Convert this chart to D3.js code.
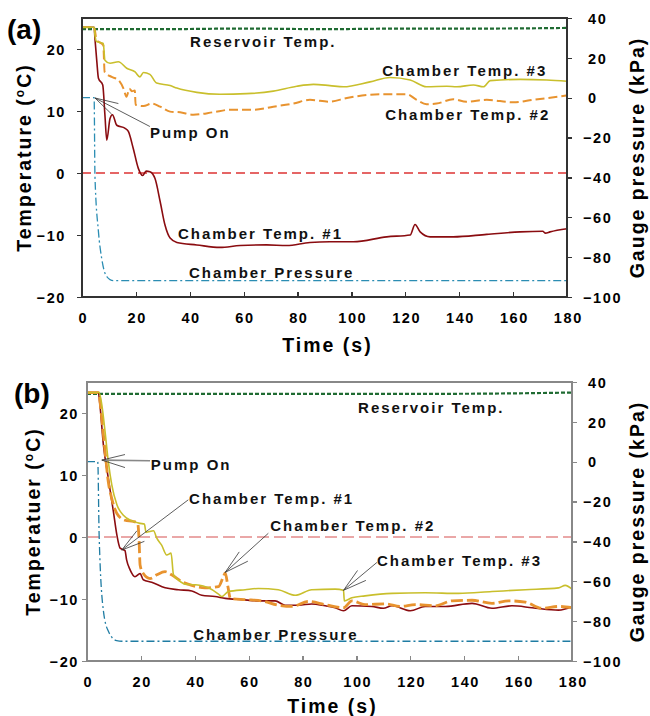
<!DOCTYPE html>
<html>
<head>
<meta charset="utf-8">
<script src="https://cdn.jsdelivr.net/npm/d3@7"></script>
<style>
  body { margin: 0; background: #fff; }
  svg { display: block; font-family: "Liberation Sans", Arial, sans-serif; font-weight: bold; }
</style>
</head>
<body>
<svg id="chart" width="650" height="716"></svg>
<script>
// values: time (s), temperature (°C), gauge pressure (kPa)
const timeTicks = [0, 20, 40, 60, 80, 100, 120, 140, 160, 180]
const tempTicks = [-20, -10, 0, 10, 20]
const pressTicks = [-100, -80, -60, -40, -20, 0, 20, 40]

// panel (a)
const aReservoir = [[0,23.2],[30,23.2],[60,23.3],[90,23.2],[120,23.3],[150,23.3],[180,23.4]]
const aChamber1 = [[0,23.5],[4.5,23.5],[4.8,21.7],[5.5,18],[6.1,15.3],[7.7,14.2],[8.5,9.4],[9.2,5.3],[10.4,8.8],[11.3,9.4],[12.9,7.7],[16,7.2],[17.2,6.7],[19,4.0],[20.9,0.75],[22.5,-0.4],[23.8,0.3],[25.2,0.2],[27.1,-0.9],[29,-4.6],[30.8,-8.4],[32.7,-10.5],[35.2,-11.2],[42.6,-11.6],[51.2,-12.0],[58.7,-11.7],[68.5,-11.6],[76,-11.7],[84.6,-11.2],[92,-11.1],[100.7,-11.1],[113.1,-10.3],[121.8,-10.0],[123.6,-8.3],[125.5,-9.5],[129.2,-10.3],[137.8,-10.3],[150.2,-9.9],[162.6,-9.5],[171,-9.4],[172,-9.7],[173.7,-9.5],[180,-9.0]]
const aChamber2 = [[0,23.5],[4.5,23.5],[5.4,21.5],[7.9,20.6],[8.4,16.3],[11,15.5],[13.5,15.0],[15.5,13.5],[16.5,12.3],[17.6,13.6],[18.5,13.2],[19.6,13.3],[19.9,11.0],[22.8,10.8],[25.9,11.2],[29,10.7],[32.7,9.9],[36.4,9.8],[41.3,9.4],[48.7,9.8],[54.9,10.2],[63.6,10.2],[71,10.7],[78.4,11.2],[84.6,11.8],[92,11.5],[98.3,12.1],[110.6,12.7],[120.5,12.7],[124.2,11.8],[127.9,11.1],[131.6,11.2],[137.8,11.9],[142.7,11.5],[150.2,11.8],[160.1,11.4],[167.5,11.8],[180,12.5]]
const aChamber3 = [[0,23.5],[4.5,23.5],[4.8,22.3],[5.4,21.2],[7.9,20.9],[8.5,18.2],[10.4,17.7],[13.5,17.95],[16.6,16.9],[19.7,16.3],[21.5,15.5],[22.8,16.2],[25.2,15.9],[27.7,14.5],[32.7,14.1],[35.2,13.7],[42.6,13.0],[51.2,12.7],[61.1,12.8],[71,13.2],[79.7,14.0],[85.9,14.3],[92,14.1],[97,13.9],[106.9,14.7],[114.3,15.4],[121.8,15.0],[127.9,13.9],[135.4,14.0],[139.1,13.9],[145.3,14.2],[149,13.9],[151.5,14.9],[162.6,15.1],[172.5,15.0],[180,14.8]]
const aPressure = [[0,0],[4.5,0],[4.8,-38.8],[6.1,-67.2],[7.3,-80.6],[9.2,-89.8],[11.6,-91.8],[60,-91.8],[120,-91.8],[180,-91.8]]

// panel (b)
const bReservoir = [[0,23.1],[45,23.1],[90,23.1],[135,23.1],[180,23.3]]
const bChamber1 = [[0,23.3],[4.2,23.3],[4.8,21.3],[6.1,14.8],[7.9,9.5],[9.8,4.1],[11.1,0.3],[12.3,-1.8],[14.1,-2.2],[14.7,-3.7],[16,-5.3],[17.8,-6.4],[19.7,-5.9],[20.9,-6.9],[24,-7.3],[29,-8.2],[33.9,-8.5],[38.9,-8.7],[42.6,-9.4],[47.5,-9.6],[51.3,-9.9],[57.5,-10.1],[63.6,-10.3],[69.8,-10.3],[73.5,-11.0],[78.5,-11.0],[83.4,-10.8],[88.4,-11.1],[92.1,-11.4],[95.2,-11.9],[98.3,-11.1],[105.7,-11.2],[110,-11.5],[113.2,-11.1],[120,-11.9],[125.5,-11.2],[133,-11.2],[142.9,-10.7],[150.3,-11.5],[157.7,-11.1],[165.2,-11.4],[175,-11.8],[180,-11.2]]
const bChamber2 = [[0,23.3],[4.2,23.3],[5.5,19.1],[6.7,13.8],[7.9,8.9],[9.2,6.2],[11.1,3.8],[14.1,2.7],[17.2,2.5],[18.8,2.2],[19.3,-0.2],[19.7,-4.5],[20.9,-5.9],[23.4,-6.7],[25.9,-6.1],[29,-5.6],[31.4,-6.1],[35.2,-7.2],[38.9,-7.8],[43.8,-8.2],[48.8,-8.0],[50.6,-6.4],[51.3,-5.8],[52.3,-8.0],[53.2,-9.9],[58.7,-10.1],[64.9,-10.3],[71,-11.0],[76,-11.2],[82.2,-10.4],[88.4,-10.9],[95.2,-11.4],[98.3,-10.3],[103.2,-10.9],[110.7,-10.8],[116.2,-11.2],[121.8,-10.9],[129.2,-11.1],[135.5,-10.3],[142.9,-10.2],[150.3,-10.7],[156.5,-10.3],[162.7,-10.5],[168.9,-11.5],[175,-11.2],[180,-11.4]]
const bChamber3 = [[0,23.3],[4.5,23.3],[5.5,21.3],[6.7,17.0],[7.9,12.2],[9.2,8.4],[11.1,5.2],[13.5,3.5],[16.6,2.6],[19.7,2.2],[21.3,2.1],[21.9,0.75],[24.7,1.0],[25.9,-0.2],[27.7,-1.3],[29.6,-2.9],[31.2,-2.6],[32.1,-6.1],[33.9,-6.9],[36.4,-7.6],[40.1,-7.7],[45.1,-8.2],[48.8,-9.2],[50,-9.6],[52.5,-8.8],[58.7,-8.5],[63.6,-8.3],[71,-8.5],[77.3,-9.4],[83.4,-8.5],[92.1,-8.4],[95.2,-8.6],[95.5,-10.3],[98.3,-9.8],[103.2,-9.5],[113.2,-9.1],[125.5,-9.0],[137.9,-9.1],[150.3,-8.8],[162.7,-8.5],[175,-8.2],[177.5,-7.8],[180,-8.4]]
const bPressure = [[0,0],[4.0,0],[4.5,-36.6],[6.1,-75],[7.9,-85],[11,-89.8],[13,-90.1],[90,-90.1],[180,-90.1]]

const svg = d3.select('#chart')
svg.append('rect').attr('width', 650).attr('height', 716).attr('fill', '#fff')

function drawPanel(p) {
  const x = d3.scaleLinear().domain([0, 180]).range([p.left, p.right])
  const yT = d3.scaleLinear().domain([-20, 25]).range([p.bottom, p.top])
  const yP = d3.scaleLinear().domain([-100, 40]).range([p.bottom, p.top])
  const g = svg.append('g')

  // zero line
  g.append('line')
    .attr('x1', x(0)).attr('x2', x(180))
    .attr('y1', yT(0)).attr('y2', yT(0))
    .attr('stroke', p.zeroColor).attr('stroke-width', p.zeroWidth)
    .attr('stroke-dasharray', p.zeroDash)

  const lineT = d3.line().x(d => x(d[0])).y(d => yT(d[1])).curve(d3.curveMonotoneX)
  const lineP = d3.line().x(d => x(d[0])).y(d => yP(d[1])).curve(d3.curveMonotoneX)

  const series = [
    {data: p.pressure, line: lineP, color: p.pressColor, width: 1.3, dash: '8,3,2,3'},
    {data: p.reservoir, line: lineT, color: '#1f6b32', width: 2.2, dash: '4,2'},
    {data: p.chamber1, line: lineT, color: '#8a0c10', width: 1.6, dash: null},
    {data: p.chamber2, line: lineT, color: '#e8932f', width: p.orangeWidth, dash: p.orangeDash},
    {data: p.chamber3, line: lineT, color: '#c9bf2c', width: 1.6, dash: null}
  ]
  g.selectAll('path.series')
    .data(series)
    .join('path')
      .attr('class', 'series')
      .attr('d', s => s.line(s.data))
      .attr('fill', 'none')
      .attr('stroke', s => s.color)
      .attr('stroke-width', s => s.width)
      .attr('stroke-dasharray', s => s.dash)

  // frame
  g.append('rect')
    .attr('x', p.left).attr('y', p.top)
    .attr('width', p.right - p.left).attr('height', p.bottom - p.top)
    .attr('fill', 'none').attr('stroke', p.axisColor).attr('stroke-width', 1.4)
    .attr('shape-rendering', 'crispEdges')

  const styleAxis = sel => {
    sel.select('.domain').remove()
    sel.selectAll('.tick line').attr('stroke', p.axisColor).attr('stroke-width', 1.2)
      .attr('shape-rendering', 'crispEdges')
    sel.selectAll('.tick text')
      .attr('fill', '#000').style('font-size', '14.5px').style('font-weight', 'bold')
      .style('font-family', '"Liberation Sans", Arial, sans-serif')
      .style('letter-spacing', '1.6px')
  }

  g.append('g')
    .attr('transform', 'translate(0,' + p.bottom + ')')
    .call(d3.axisBottom(x).tickValues(timeTicks).tickSizeInner(-5).tickSizeOuter(0).tickPadding(16))
    .call(styleAxis)
    .call(s => s.selectAll('.tick text').attr('dx', '0.8px'))

  g.append('g')
    .attr('transform', 'translate(' + p.left + ',0)')
    .call(d3.axisLeft(yT).tickValues(tempTicks).tickSizeInner(5).tickSizeOuter(0))
    .call(styleAxis)
    .call(s => s.selectAll('.tick text').attr('x', -p.leftLabel).attr('dy', '0.36em'))

  g.append('g')
    .attr('transform', 'translate(' + p.right + ',0)')
    .call(d3.axisRight(yP).tickValues(pressTicks).tickSizeInner(5).tickSizeOuter(0))
    .call(styleAxis)
    .call(s => s.selectAll('.tick text')
      .attr('x', d => d < 0 ? p.rightNeg : p.rightPos).attr('dy', '0.36em'))

  // axis titles
  const title = (sel) => sel.attr('fill', '#000').style('font-size', '19.5px').style('letter-spacing', '2px')
  g.append('text')
    .attr('x', (p.left + p.right) / 2 + 3).attr('y', p.timeY)
    .attr('text-anchor', 'middle').call(title).text('Time (s)')

  const tt = g.append('text')
    .attr('transform', 'translate(' + p.leftTitleX + ',' + (p.top + p.bottom) / 2 + ') rotate(-90)')
    .attr('text-anchor', 'middle').call(title)
  tt.append('tspan').text(p.tempTitle + ' (')
  tt.append('tspan').text('o').style('font-size', '12px').attr('dy', '-7')
  tt.append('tspan').text('C)').attr('dy', '7')

  g.append('text')
    .attr('transform', 'translate(' + p.rightTitleX + ',' + (p.top + p.bottom) / 2 + ') rotate(-90)')
    .attr('text-anchor', 'middle').call(title).text('Gauge pressure (kPa)')

  // panel letter
  g.append('text')
    .attr('x', p.letterX).attr('y', p.letterY)
    .attr('fill', '#000').style('font-size', '28px')
    .text(p.letter)

  // series labels
  g.selectAll('text.lbl')
    .data(p.labels)
    .join('text')
      .attr('class', 'lbl')
      .attr('x', d => x(d.t)).attr('y', d => yT(d.v))
      .attr('fill', '#111').style('font-size', '15px').style('letter-spacing', '2px')
      .text(d => d.text)

  // arrows: tip, tail and two barbs
  p.arrows.forEach(a => {
    const ends = [a.tail, a.barb1, a.barb2]
    g.selectAll(null)
      .data(ends)
      .join('line')
        .attr('x1', x(a.tip[0])).attr('y1', yT(a.tip[1]))
        .attr('x2', d => x(d[0])).attr('y2', d => yT(d[1]))
        .attr('stroke', (d, i) => i === 0 ? a.color : '#333')
        .attr('stroke-width', (d, i) => i === 0 ? a.width : 0.8)
  })
}

drawPanel({
  left: 82, right: 567, top: 18, bottom: 297,
  letter: '(a)', letterX: 7, letterY: 39,
  tempTitle: 'Temperature', leftTitleX: 31, rightTitleX: 644, timeY: 352,
  leftLabel: 16, rightPos: 21, rightNeg: 16,
  axisColor: '#333', zeroColor: '#dd3333', zeroWidth: 1.4, zeroDash: '9,5',
  pressColor: '#2b8db3', orangeWidth: 2, orangeDash: '9,4',
  reservoir: aReservoir, chamber1: aChamber1, chamber2: aChamber2, chamber3: aChamber3, pressure: aPressure,
  labels: [
    {text: 'Reservoir Temp.', t: 40.1, v: 20.3},
    {text: 'Chamber Temp. #3', t: 111.4, v: 15.6},
    {text: 'Chamber Temp. #2', t: 112.5, v: 8.5},
    {text: 'Chamber Temp. #1', t: 35.6, v: -10.6},
    {text: 'Chamber Pressure', t: 39.7, v: -16.9},
    {text: 'Pump On', t: 25.2, v: 5.6}
  ],
  arrows: [
    {tip: [4.8, 12.1], tail: [25.2, 7.5], barb1: [13.5, 11.2], barb2: [11.0, 9.5], color: '#333', width: 0.8}
  ]
})

drawPanel({
  left: 87, right: 572, top: 382, bottom: 661,
  letter: '(b)', letterX: 14, letterY: 403,
  tempTitle: 'Temperatuer', leftTitleX: 40, rightTitleX: 644, timeY: 713,
  leftLabel: 8, rightPos: 16, rightNeg: 11,
  axisColor: '#888', zeroColor: '#e48a8a', zeroWidth: 1.5, zeroDash: '12,5',
  pressColor: '#1f7ca3', orangeWidth: 2.8, orangeDash: '12,4',
  reservoir: bReservoir, chamber1: bChamber1, chamber2: bChamber2, chamber3: bChamber3, pressure: bPressure,
  labels: [
    {text: 'Reservoir Temp.', t: 100.6, v: 19.95},
    {text: 'Pump On', t: 23.7, v: 10.8},
    {text: 'Chamber Temp. #1', t: 37.9, v: 5.3},
    {text: 'Chamber Temp. #2', t: 68.0, v: 0.9},
    {text: 'Chamber Temp. #3', t: 107.6, v: -4.7},
    {text: 'Chamber Pressure', t: 39.4, v: -16.6}
  ],
  arrows: [
    {tip: [5.5, 12.4], tail: [23.4, 12.3], barb1: [14.1, 13.3], barb2: [14.1, 11.2], color: '#888', width: 1.6},
    {tip: [12.9, -2.1], tail: [37.6, 6.0], barb1: [18.5, 1.0], barb2: [21.3, -0.7], color: '#333', width: 0.8},
    {tip: [51.3, -5.7], tail: [67.3, 0.6], barb1: [56.5, -2.4], barb2: [59.7, -3.9], color: '#333', width: 0.8},
    {tip: [95.2, -8.6], tail: [107.6, -4.1], barb1: [100.4, -5.4], barb2: [103.5, -7.0], color: '#333', width: 0.8}
  ]
})
</script>
</body>
</html>
